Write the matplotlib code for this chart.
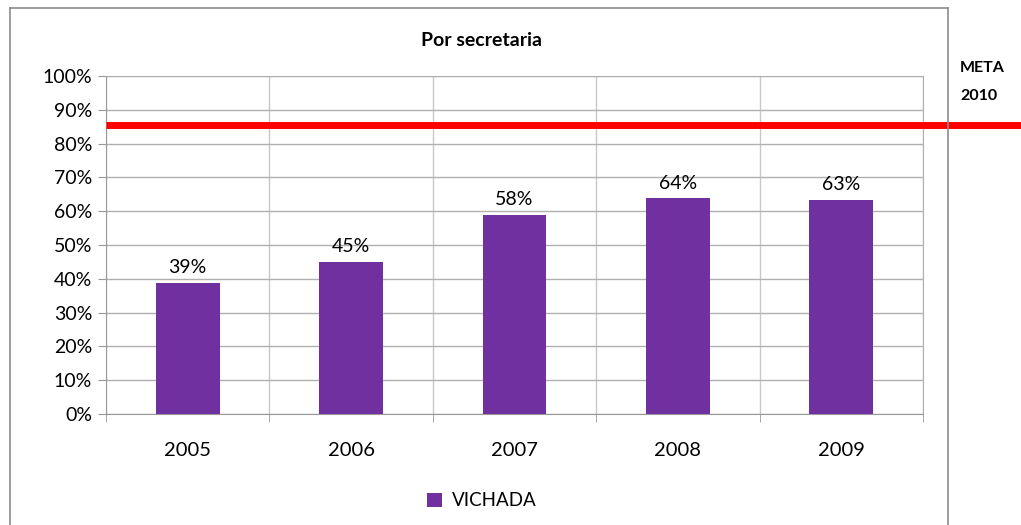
import matplotlib
matplotlib.use("Agg")
import matplotlib.pyplot as plt
from matplotlib.lines import Line2D
from matplotlib.transforms import blended_transform_factory

years = ["2005", "2006", "2007", "2008", "2009"]
vichada = [0.388, 0.449, 0.588, 0.638, 0.633]
bar_labels = ["39%", "45%", "58%", "64%", "63%"]
meta_2010 = 0.855

plt.rcParams["font.family"] = ["Lato", "DejaVu Sans"]

W, H = 1021, 525
fig = plt.figure(figsize=(W / 100, H / 100), dpi=100)
ax = fig.add_axes([106 / W, 1 - 414 / H, (923 - 106) / W, (414 - 76) / H])

x = range(len(years))
ax.bar(x, vichada, width=0.39, color="#7030A0", zorder=3, label="VICHADA")
for xi, v, lab in zip(x, vichada, bar_labels):
    ax.text(xi, v + 0.02, lab, ha="center", va="bottom", fontsize=14)

ax.set_xlim(-0.5, len(years) - 0.5)
ax.set_ylim(0, 1)
ax.set_yticks([i / 10 for i in range(11)])
ax.set_yticklabels([f"{i * 10}%" for i in range(11)], fontsize=14)
ax.set_xticks(list(x))
ax.set_xticklabels(years, fontsize=14.5)
ax.tick_params(axis="x", length=0, pad=20)
ax.tick_params(axis="y", length=6, color="#999999", pad=4)
ax.set_xticks([i - 0.5 for i in range(len(years) + 1)], minor=True)
ax.tick_params(axis="x", which="minor", length=6, color="#999999")
ax.grid(True, which="major", axis="y", color="#b0b0b0", lw=1, zorder=0)
ax.grid(True, which="minor", axis="x", color="#c8c8c8", lw=1, zorder=0)
for s in ax.spines.values():
    s.set_color("#b0b0b0")
ax.spines["left"].set_color("#999999")
ax.spines["bottom"].set_color("#999999")

# meta line, runs past the axes to the right edge
tr = blended_transform_factory(fig.transFigure, ax.transData)
ax.plot([106 / W, 1.0], [meta_2010, meta_2010], color="#ff0000", lw=5,
        transform=tr, clip_on=False, zorder=5, solid_capstyle="butt")

fig.text(960 / W, 1 - 68 / H, "META", fontsize=11.5, fontweight="bold", va="center")
fig.text(960 / W, 1 - 96 / H, "2010", fontsize=11.5, fontweight="bold", va="center")
fig.text(481 / W, 1 - 40 / H, "Por secretaria", fontsize=14, fontweight="bold",
         ha="center", va="center")

# outer chart frame
for xs, ys in [([10, 10], [8, H]), ([10, 948], [8, 8]), ([948, 948], [8, H])]:
    fig.add_artist(Line2D([v / W for v in xs], [1 - v / H for v in ys],
                          color="#8c8c8c", lw=1.2))

fig.legend(loc="center", bbox_to_anchor=(482 / W, 1 - 501 / H), frameon=False,
           fontsize=13.5, handlelength=0.8, handleheight=0.8, handletextpad=0.5)

fig.savefig("out.png", dpi=100)
